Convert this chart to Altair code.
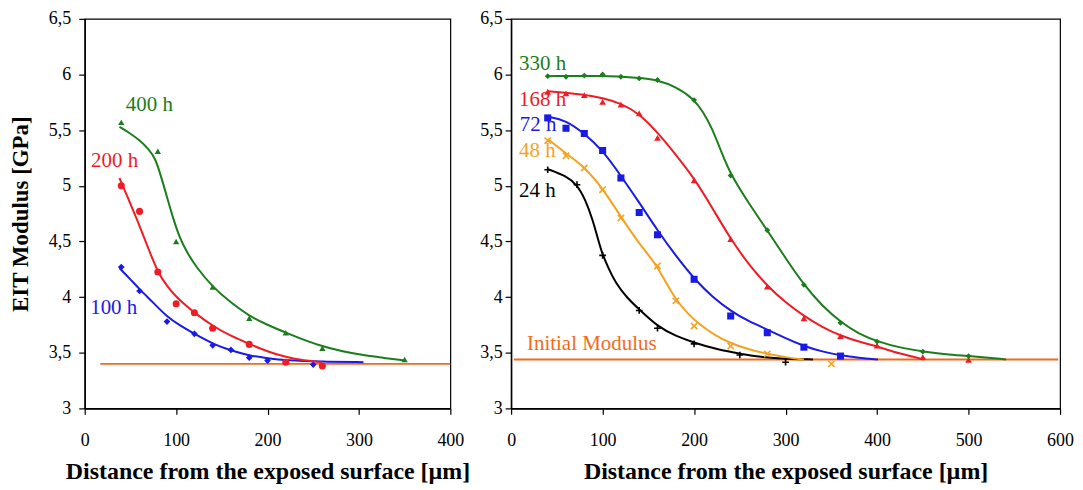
import altair as alt
import pandas as pd

FONT = "Liberation Serif"

# ---------------- Left panel ----------------
# 100 h (blue diamonds)
l100_px = [40, 60, 90, 120, 140, 160, 180, 200, 250]
l100_py = [4.27, 4.055, 3.78, 3.67, 3.567, 3.525, 3.456, 3.43, 3.394]
l100_cx = [38, 50, 60, 75, 89, 105, 120, 140, 160, 180, 200, 220, 260, 305]
l100_cy = [4.26, 4.16, 4.07, 3.95, 3.83, 3.74, 3.67, 3.58, 3.52, 3.475, 3.45, 3.43, 3.42, 3.415]
# 200 h (red circles)
l200_px = [40, 60, 80, 100, 120, 140, 180, 220, 260]
l200_py = [5.0, 4.77, 4.225, 3.94, 3.86, 3.72, 3.575, 3.415, 3.38]
l200_cx = [38, 50, 60, 70, 80, 90, 99, 110, 120, 140, 160, 180, 200, 220, 240, 260]
l200_cy = [5.07, 4.84, 4.64, 4.43, 4.22, 4.10, 4.01, 3.93, 3.86, 3.74, 3.65, 3.58, 3.51, 3.46, 3.43, 3.415]
# 400 h (green triangles)
l400_px = [40, 80, 100, 140, 180, 220, 260, 350]
l400_py = [5.57, 5.31, 4.5, 4.09, 3.81, 3.68, 3.54, 3.44]
l400_cx = [38, 50, 60, 70, 77, 83, 90, 97, 104, 112, 122, 140, 160, 180, 200, 220, 260, 300, 350]
l400_cy = [5.53, 5.47, 5.41, 5.33, 5.25, 5.10, 4.90, 4.70, 4.53, 4.40, 4.27, 4.09, 3.95, 3.83, 3.75, 3.68, 3.55, 3.48, 3.43]
# horizontal reference line, left
l_init_x = [17, 400]
l_init_y = 3.40

# ---------------- Right panel ----------------
r24_px = [40, 72, 100, 140, 160, 200, 250, 300]
r24_py = [5.144, 5.01, 4.375, 3.88, 3.72, 3.58, 3.48, 3.415]
r24_cx = [40, 60, 72, 81, 89, 96, 100, 107, 114, 127, 140, 161, 180, 200, 225, 251, 275, 300, 330]
r24_cy = [5.15, 5.09, 5.01, 4.88, 4.70, 4.49, 4.38, 4.25, 4.13, 3.99, 3.89, 3.73, 3.65, 3.59, 3.53, 3.49, 3.46, 3.445, 3.44]

r48_px = [40, 60, 80, 100, 120, 160, 180, 200, 240, 280, 350]
r48_py = [5.406, 5.27, 5.16, 4.965, 4.71, 4.28, 3.966, 3.74, 3.56, 3.49, 3.40]
r48_cx = [40, 60, 80, 100, 120, 140, 158, 170, 180, 192, 205, 222, 241, 260, 280, 303, 320]
r48_cy = [5.42, 5.29, 5.17, 4.98, 4.72, 4.48, 4.30, 4.12, 3.98, 3.86, 3.76, 3.66, 3.58, 3.53, 3.49, 3.455, 3.44]

r72_px = [40, 60, 80, 100, 120, 140, 160, 200, 240, 280, 320, 360]
r72_py = [5.61, 5.517, 5.47, 5.317, 5.07, 4.76, 4.56, 4.16, 3.83, 3.68, 3.55, 3.47]
r72_cx = [40, 60, 80, 100, 120, 140, 160, 180, 200, 220, 241, 260, 280, 300, 320, 340, 361, 380, 401]
r72_cy = [5.62, 5.59, 5.47, 5.32, 5.09, 4.85, 4.60, 4.37, 4.165, 4.00, 3.87, 3.78, 3.71, 3.63, 3.56, 3.51, 3.475, 3.455, 3.44]

r168_px = [40, 60, 80, 100, 120, 140, 160, 200, 240, 280, 320, 360, 400, 450, 500]
r168_py = [5.845, 5.83, 5.815, 5.755, 5.73, 5.65, 5.43, 5.05, 4.52, 4.095, 3.81, 3.65, 3.565, 3.46, 3.435]
r168_cx = [40, 80, 100, 120, 140, 160, 180, 200, 220, 240, 260, 280, 300, 320, 340, 361, 380, 401, 425, 451]
r168_cy = [5.85, 5.82, 5.79, 5.74, 5.65, 5.48, 5.28, 5.07, 4.80, 4.52, 4.29, 4.10, 3.95, 3.83, 3.73, 3.65, 3.60, 3.555, 3.49, 3.44]

r330_px = [40, 60, 80, 100, 120, 140, 160, 200, 240, 280, 320, 360, 400, 450, 500]
r330_py = [5.985, 5.98, 5.99, 6.0, 5.98, 5.965, 5.95, 5.77, 5.093, 4.60, 4.11, 3.77, 3.60, 3.51, 3.47]
r330_cx = [40, 100, 140, 160, 180, 200, 210, 219, 230, 240, 260, 280, 300, 320, 340, 361, 380, 401, 425, 451, 475, 501, 541]
r330_cy = [5.985, 5.99, 5.97, 5.95, 5.89, 5.78, 5.66, 5.53, 5.30, 5.10, 4.84, 4.60, 4.35, 4.11, 3.92, 3.77, 3.67, 3.60, 3.545, 3.51, 3.485, 3.47, 3.44]

r_init_x = [3, 598]
r_init_y = 3.44

# labels
left_labels = ["400 h", "200 h", "100 h"]
left_label_x = [45, 7, 6]
left_label_y = [5.73, 5.22, 3.90]
right_labels = ["330 h", "168 h", "72 h", "48 h", "24 h", "Initial Modulus"]
right_label_x = [8.7, 8.7, 9.5, 8.7, 8.7, 17.4]
right_label_y = [6.09, 5.77, 5.545, 5.314, 4.956, 3.574]

GREEN = "#1B7D1B"
RED = "#EE1C24"
BLUE = "#1A1AE6"
ORANGE = "#F5A21F"
BLACK = "#000000"
INIT = "#F26B1B"

X_PATH = "M-1,-1L1,1M-1,1L1,-1"
PLUS_PATH = "M-1,0L1,0M0,-1L0,1"

y_label_expr = ("datum.value % 1 == 0 ? format(datum.value, 'd') : "
                "replace(format(datum.value, '.1f'), '.', ',')")


def xenc(domain_max, title):
    return alt.X("x:Q", scale=alt.Scale(domain=[0, domain_max], nice=False),
                 axis=alt.Axis(values=list(range(0, domain_max + 1, 100)), title=title,
                               labelPadding=17, titlePadding=10, tickSize=6,
                               titleFontSize=24))


def yenc(title, lab_pad):
    if title:
        ax = alt.Axis(values=[3, 3.5, 4, 4.5, 5, 5.5, 6, 6.5], labelExpr=y_label_expr,
                      title=title, labelPadding=lab_pad, titlePadding=16, tickSize=6,
                      titleFontSize=23)
    else:
        ax = alt.Axis(values=[3, 3.5, 4, 4.5, 5, 5.5, 6, 6.5], labelExpr=y_label_expr,
                      title=None, labelPadding=lab_pad, tickSize=6)
    return alt.Y("y:Q", scale=alt.Scale(domain=[3, 6.5], nice=False), axis=ax)


def series(cx, cy, px, py, color, shape, filled, size, X, Y, sw=1.6):
    line = alt.Chart(pd.DataFrame({"x": cx, "y": cy})).mark_line(
        interpolate="basis", color=color, strokeWidth=2).encode(x=X, y=Y)
    pts = alt.Chart(pd.DataFrame({"x": px, "y": py})).mark_point(
        shape=shape, filled=filled, color=color, size=size, opacity=1,
        strokeWidth=sw).encode(x=X, y=Y)
    return [line, pts]


def init_rule(xs, yv, X, Y):
    df = pd.DataFrame({"x": [xs[0]], "x2": [xs[1]], "y": [yv]})
    return alt.Chart(df).mark_rule(color=INIT, strokeWidth=2).encode(
        x=X, x2="x2:Q", y=Y)


XT = "Distance from the exposed surface [µm]"

# Left
XL = xenc(400, XT)
YL = yenc("EIT Modulus [GPa]", 8)
left_layers = [init_rule(l_init_x, l_init_y, XL, YL)]
left_layers += series(l100_cx, l100_cy, l100_px, l100_py, BLUE, "diamond", True, 45, XL, YL)
left_layers += series(l200_cx, l200_cy, l200_px, l200_py, RED, "circle", True, 50, XL, YL)
left_layers += series(l400_cx, l400_cy, l400_px, l400_py, GREEN, "triangle-up", True, 40, XL, YL)
ldf = pd.DataFrame({"x": left_label_x, "y": left_label_y, "t": left_labels,
                    "c": [GREEN, RED, BLUE]})
left_layers.append(alt.Chart(ldf).mark_text(align="left", baseline="middle", font=FONT,
                                            fontSize=21).encode(
    x=XL, y=YL, text="t:N", color=alt.Color("c:N", scale=None)))
left = alt.layer(*left_layers).properties(width=367, height=391)

# Right
XR = xenc(600, XT)
YR = yenc(None, 3)
right_layers = [init_rule(r_init_x, r_init_y, XR, YR)]
right_layers += series(r24_cx, r24_cy, r24_px, r24_py, BLACK, PLUS_PATH, False, 45, XR, YR)
right_layers += series(r48_cx, r48_cy, r48_px, r48_py, ORANGE, X_PATH, False, 40, XR, YR)
right_layers += series(r72_cx, r72_cy, r72_px, r72_py, BLUE, "square", True, 50, XR, YR)
right_layers += series(r168_cx, r168_cy, r168_px, r168_py, RED, "triangle-up", True, 45, XR, YR)
right_layers += series(r330_cx, r330_cy, r330_px, r330_py, GREEN, "diamond", True, 35, XR, YR)
rdf = pd.DataFrame({"x": right_label_x, "y": right_label_y, "t": right_labels,
                    "c": [GREEN, RED, BLUE, ORANGE, BLACK, INIT]})
right_layers.append(alt.Chart(rdf).mark_text(align="left", baseline="middle", font=FONT,
                                             fontSize=21).encode(
    x=XR, y=YR, text="t:N", color=alt.Color("c:N", scale=None)))
right = alt.layer(*right_layers).properties(width=551, height=391)

chart = alt.hconcat(left, right, spacing=61, bounds="flush").properties(
    padding={"left": 0, "top": 0, "right": 0, "bottom": 0},
    background="white"
).configure_view(stroke="#000000", strokeWidth=1.2).configure_axis(
    grid=False, domainColor="#000000", domainWidth=1.5, tickColor="#000000",
    tickWidth=1.2, labelColor="#000000", labelFont=FONT, labelFontSize=18,
    titleFont=FONT, titleFontSize=22, titleFontWeight="bold", titleColor="#000000",
    labelFlush=False, labelOverlap=False
)

chart.save("out.html", embed_options={"renderer": "svg", "actions": False})
